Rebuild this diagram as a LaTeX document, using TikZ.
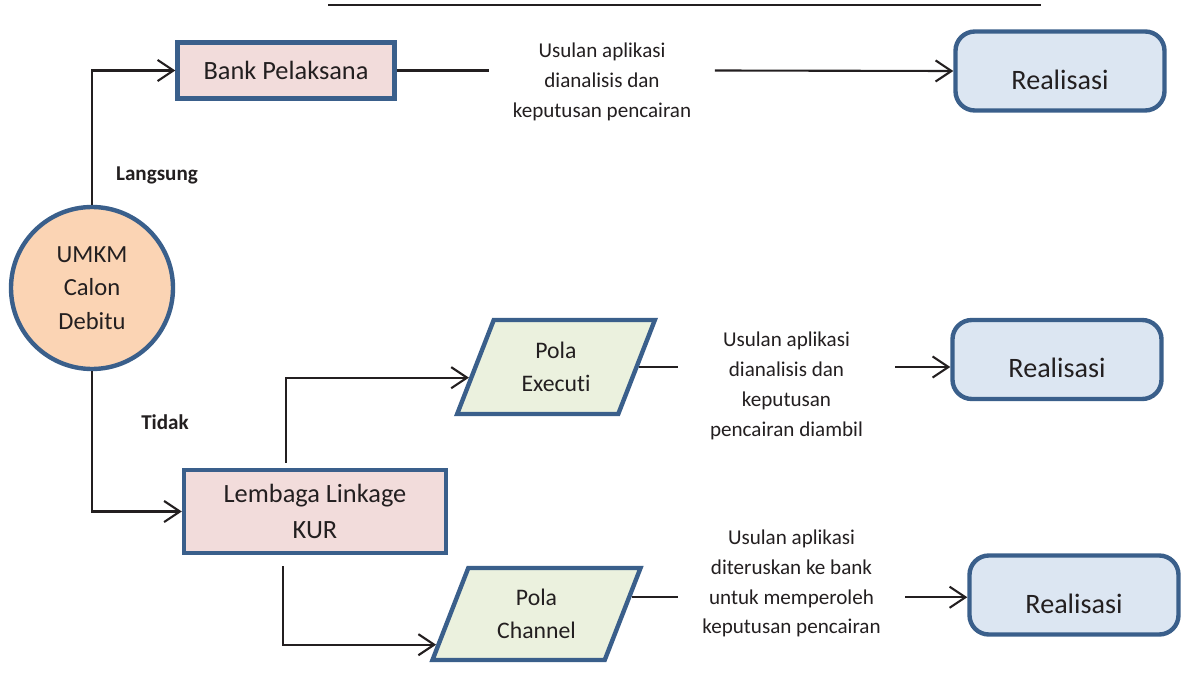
\documentclass[tikz,border=0pt]{standalone}
\usepackage{fontspec}
\setmainfont{Carlito}[Ligatures=NoCommon]
\usetikzlibrary{shapes,arrows.meta,positioning,calc}
\definecolor{KurBlue}{HTML}{3A5F8B}
\definecolor{KurPink}{HTML}{F2DCDB}
\definecolor{KurSky}{HTML}{DCE6F2}
\definecolor{KurLime}{HTML}{EBF1DE}
\definecolor{KurPeach}{HTML}{FBD4B4}
\definecolor{LineBlack}{HTML}{231F20}

\begin{document}
\begin{tikzpicture}[
    kotak/.style={draw=KurBlue, fill=KurPink, line width=2.5pt, align=center, text=LineBlack},
    real/.style={draw=KurBlue, fill=KurSky, line width=2.5pt, rounded corners=11pt, minimum width=4.18cm, minimum height=1.58cm, font=\fontsize{16}{19}\selectfont, text=LineBlack, text height=21pt, text depth=0pt},
    pola/.style={trapezium, trapezium left angle=69, trapezium right angle=111, trapezium stretches=true, draw=KurBlue, fill=KurLime, line width=2.5pt, align=center, text=LineBlack, font=\fontsize{13.5}{19}\selectfont},
    ket/.style={align=center, inner sep=0pt, text=LineBlack, font=\fontsize{12}{17}\selectfont},
    panah/.style={-{Straight Barb[length=9pt,width=12pt]}, line width=1.2pt, draw=LineBlack},
    garis/.style={line width=1.2pt, draw=LineBlack}
]

  \useasboundingbox (0, 0) rectangle (23.66, -13.54);

  % Garis atas
  \draw[line width=1.4pt, LineBlack] (6.56, -0.1) -- (20.82, -0.1);

  % =========================================================================
  % JALUR LANGSUNG
  % =========================================================================
  \node[kotak, minimum width=4.34cm, minimum height=1.12cm, font=\fontsize{15}{18}\selectfont] (bank) at (5.72, -1.41) {Bank Pelaksana};
  \node[ket, minimum width=4.5cm] (ket_1) at (12.04, -1.64) {Usulan aplikasi\\dianalisis dan\\keputusan pencairan};
  \node[real] (real_1) at (21.2, -1.42) {Realisasi};

  \draw[garis] (bank.east) -- (bank.east -| ket_1.west);
  \draw[panah] (bank.east -| ket_1.east) -- (real_1.west);

  % =========================================================================
  % CALON DEBITUR
  % =========================================================================
  \node[circle, draw=KurBlue, fill=KurPeach, line width=2.5pt, minimum size=3.24cm, align=center, text=LineBlack, font=\fontsize{14}{19}\selectfont] (umkm) at (1.84, -5.76) {UMKM\\Calon\\Debitu};

  \node[font=\fontsize{12}{14}\selectfont\bfseries, text=LineBlack] (lbl_langsung) at (3.14, -3.5) {Langsung};
  \node[font=\fontsize{12}{14}\selectfont\bfseries, text=LineBlack] (lbl_tidak) at (3.3, -8.44) {Tidak};

  \draw[panah] (umkm.north) |- (bank.west);

  % =========================================================================
  % JALUR TIDAK LANGSUNG (LEMBAGA LINKAGE)
  % =========================================================================
  \node[kotak, minimum width=5.24cm, minimum height=1.66cm, font=\fontsize{15}{20}\selectfont] (lembaga_kur) at (6.30, -10.23) {Lembaga Linkage\\KUR};
  \draw[panah] (umkm.south) |- (lembaga_kur.west);

  % Pola Executi
  \node[pola, minimum width=3.96cm, minimum height=1.88cm] (pola_exec) at (11.12, -7.34) {Pola\\Executi};
  \node[ket, minimum width=4.34cm] (ket_2) at (15.73, -7.72) {Usulan aplikasi\\dianalisis dan\\keputusan\\pencairan diambil};
  \node[real] (real_2) at (21.14, -7.19) {Realisasi};

  \draw[panah] ([xshift=-0.58cm, yshift=0.1cm]lembaga_kur.north) |- (pola_exec.187);
  \draw[garis] (pola_exec.east) -- (pola_exec.east -| ket_2.west);
  \draw[panah] (pola_exec.east -| ket_2.east) -- (pola_exec.east -| real_2.west);

  % Pola Channel
  \node[pola, minimum width=4.18cm, minimum height=1.84cm] (pola_chan) at (10.73, -12.28) {Pola\\Channel};
  \node[ket, minimum width=4.54cm] (ket_3) at (15.83, -11.67) {Usulan aplikasi\\diteruskan ke bank\\untuk memperoleh\\keputusan pencairan};
  \node[real] (real_3) at (21.48, -11.9) {Realisasi};

  \draw[panah] ([xshift=-0.64cm, yshift=-0.22cm]lembaga_kur.south) |- (pola_chan.197);
  \draw[garis] (pola_chan.10) -- (pola_chan.10 -| ket_3.west);
  \draw[panah] (pola_chan.10 -| ket_3.east) -- (pola_chan.10 -| real_3.west);

\end{tikzpicture}
\end{document}
